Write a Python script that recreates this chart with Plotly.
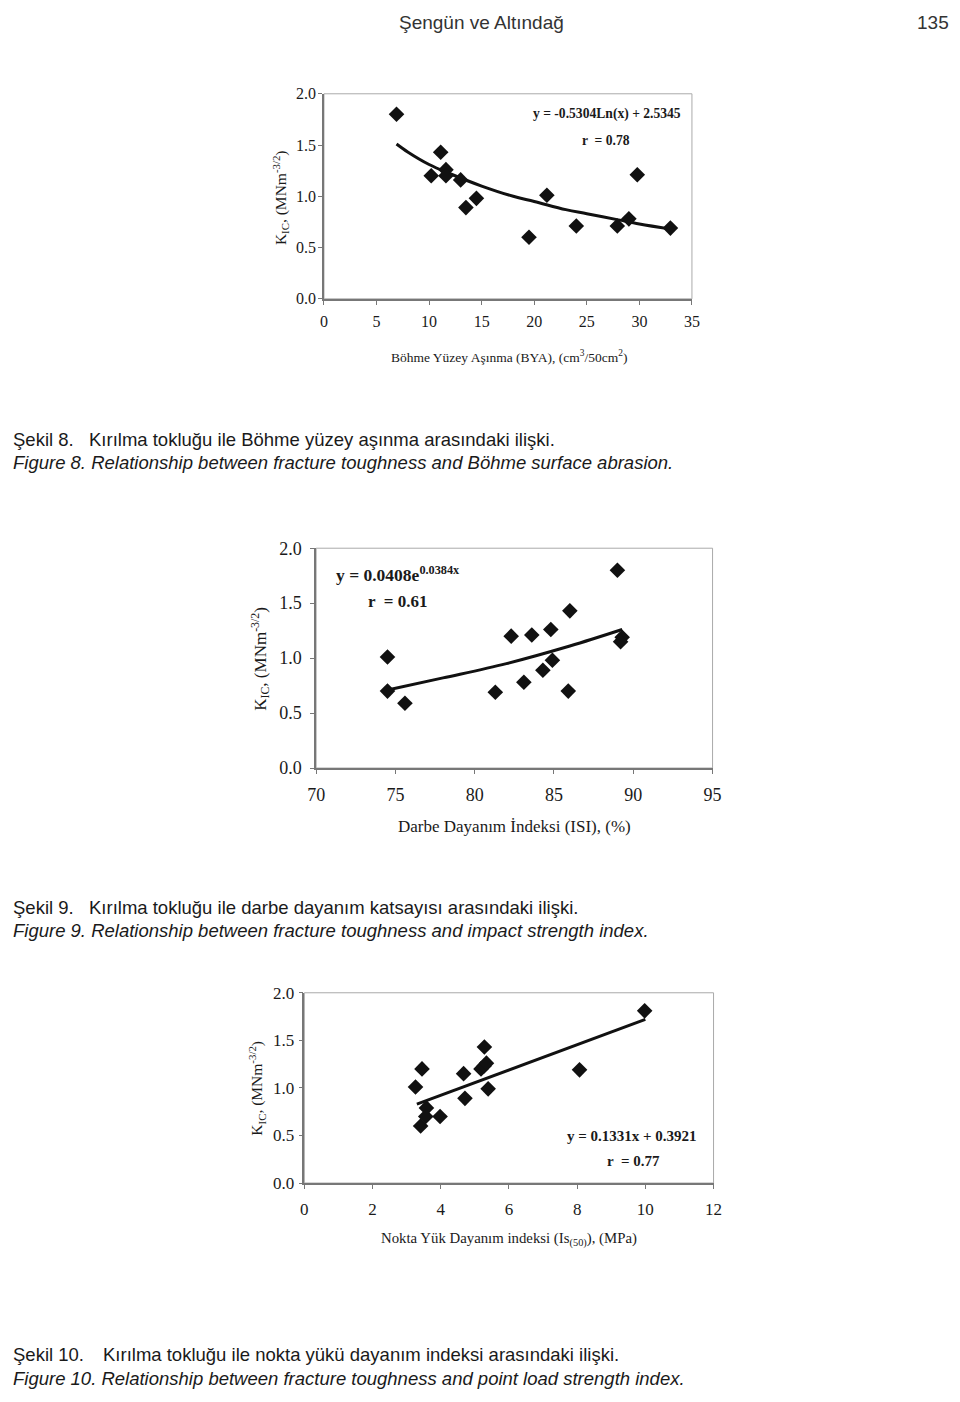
import plotly.graph_objects as go

W, H = 960, 1402

# ---------------- data ----------------
# Figure 8: Böhme surface abrasion vs K_IC
bya_x = [6.9, 10.2, 11.1, 11.6, 11.6, 13.0, 13.5, 14.5, 19.5, 21.2, 24.0, 27.9, 29.0, 29.8, 32.95]
bya_y = [1.80, 1.20, 1.43, 1.26, 1.20, 1.16, 0.89, 0.98, 0.60, 1.01, 0.71, 0.71, 0.78, 1.21, 0.69]
bya_trend_x = [6.9, 8, 10, 12, 15, 18, 20, 23, 25, 28, 30, 33]
bya_trend_y = [1.51, 1.43, 1.31, 1.22, 1.10, 1.00, 0.95, 0.87, 0.83, 0.77, 0.73, 0.68]

# Figure 9: impact strength index vs K_IC
isi_x = [74.5, 74.5, 75.6, 81.3, 82.3, 83.1, 83.6, 84.3, 84.8, 84.9, 85.9, 86.0, 89.0, 89.3, 89.2]
isi_y = [1.01, 0.70, 0.59, 0.69, 1.20, 0.78, 1.21, 0.89, 1.26, 0.98, 0.70, 1.43, 1.80, 1.19, 1.15]
isi_trend_x = [74.5, 78, 82, 86, 89.3]
isi_trend_y = [0.71, 0.82, 0.95, 1.11, 1.26]

# Figure 10: point load strength index vs K_IC
is50_x = [3.26, 3.45, 3.41, 3.58, 3.56, 3.98, 4.67, 4.71, 5.18, 5.28, 5.27, 5.34, 5.39, 8.07, 9.98]
is50_y = [1.01, 1.20, 0.60, 0.79, 0.70, 0.70, 1.15, 0.89, 1.20, 1.43, 1.23, 1.26, 0.99, 1.19, 1.81]
is50_trend_x = [3.3, 10.0]
is50_trend_y = [0.83, 1.72]

y_ticks = [0.0, 0.5, 1.0, 1.5, 2.0]

# ---------------- helpers ----------------
def px(x):
    return x / W

def py(y):
    return 1 - y / H

SERIF = "Liberation Serif, Times New Roman, serif"
SANS = "Liberation Sans, Arial, Helvetica, sans-serif"

fig = go.Figure()

panels = [
    dict(xs=bya_x, ys=bya_y, tx=bya_trend_x, ty=bya_trend_y, shape="spline",
         dom_x=(321, 696), dom_y=(85, 293), xr=(0, 35), dt=5, tf=16, ystand=-1, xstand=3),
    dict(xs=isi_x, ys=isi_y, tx=isi_trend_x, ty=isi_trend_y, shape="spline",
         dom_x=(313, 717), dom_y=(546, 769), xr=(70, 95), dt=5, tf=18, ystand=5, xstand=6),
    dict(xs=is50_x, ys=is50_y, tx=is50_trend_x, ty=is50_trend_y, shape="linear",
         dom_x=(301, 718), dom_y=(997, 1190), xr=(0, 12), dt=2, tf=17, ystand=1, xstand=6),
]

layout_axes = {}
shapes = []
for i, p in enumerate(panels, start=1):
    xa = "x" if i == 1 else f"x{i}"
    ya = "y" if i == 1 else f"y{i}"
    fig.add_trace(go.Scatter(x=p["tx"], y=p["ty"], mode="lines",
                             line=dict(color="#111", width=3, shape=p["shape"], smoothing=1.0),
                             xaxis=xa, yaxis=ya, showlegend=False, hoverinfo="skip"))
    fig.add_trace(go.Scatter(x=p["xs"], y=p["ys"], mode="markers",
                             marker=dict(symbol="diamond", size=12, color="#111"),
                             xaxis=xa, yaxis=ya, showlegend=False))
    kx = "xaxis" if i == 1 else f"xaxis{i}"
    ky = "yaxis" if i == 1 else f"yaxis{i}"
    layout_axes[kx] = dict(
        domain=[px(p["dom_x"][0]), px(p["dom_x"][1])], anchor=ya,
        range=list(p["xr"]), dtick=p["dt"], tick0=p["xr"][0],
        showgrid=False, zeroline=False, showline=True, linecolor="#777", linewidth=1.5,
        ticks="outside", ticklen=4, tickcolor="#777", ticklabelstandoff=p["xstand"],
        tickfont=dict(family=SERIF, size=p["tf"], color="#1a1a1a"),
    )
    layout_axes[ky] = dict(
        domain=[py(p["dom_y"][1]), py(p["dom_y"][0])], anchor=xa,
        range=[0, 2], tickvals=y_ticks, tickformat=".1f",
        showgrid=False, zeroline=False, showline=True, linecolor="#777", linewidth=1.5,
        ticks="outside", ticklen=4, tickcolor="#777", ticklabelstandoff=p["ystand"],
        tickfont=dict(family=SERIF, size=p["tf"], color="#1a1a1a"),
    )
    shapes.append(dict(type="rect", xref=f"{xa} domain", yref=f"{ya} domain",
                       x0=0, x1=1, y0=0, y1=1, line=dict(color="#aaa", width=1),
                       layer="below"))

annotations = []

def ann(text, x, y, size, family, xanchor="left", color="#1a1a1a", textangle=0, yanchor="middle"):
    annotations.append(dict(text=text, x=px(x), y=py(y), xref="paper", yref="paper",
                            showarrow=False, xanchor=xanchor, yanchor=yanchor,
                            font=dict(size=size, family=family, color=color),
                            textangle=textangle, borderpad=0))

# header
ann("Şengün ve Altındağ", 482, 13, 19, SANS, xanchor="center", color="#333")
ann("135", 959, 13, 19, SANS, xanchor="right", color="#333")

# chart 1 texts
ann("<b>y = -0.5304Ln(x) + 2.5345</b>", 533, 106, 13.6, SERIF)
ann("<b>r  = 0.78</b>", 583, 132, 13.6, SERIF)
ann("Böhme Yüzey Aşınma (BYA), (cm<sup>3</sup>/50cm<sup>2</sup>)", 510, 352, 13.5, SERIF, xanchor="center")
ann("K<sub>IC</sub>, (MNm<sup>-3/2</sup>)", 277, 190, 15.5, SERIF, xanchor="center", textangle=-90)

# chart 2 texts
ann("<b>y = 0.0408e<sup>0.0384x</sup></b>", 332, 572, 17.5, SERIF)
ann("<b>r  = 0.61</b>", 365, 600, 17, SERIF)
ann("Darbe Dayanım İndeksi (ISI), (%)", 515, 828, 17, SERIF, xanchor="center")
ann("K<sub>IC</sub>, (MNm<sup>-3/2</sup>)", 256, 658, 17, SERIF, xanchor="center", textangle=-90)

# chart 3 texts
ann("<b>y = 0.1331x + 0.3921</b>", 568, 1142, 15, SERIF)
ann("<b>r  = 0.77</b>", 608, 1168, 15, SERIF)
ann("Nokta Yük Dayanım indeksi (Is<sub>(50)</sub>), (MPa)", 510, 1247, 14.8, SERIF, xanchor="center")
ann("K<sub>IC</sub>, (MNm<sup>-3/2</sup>)", 253, 1094, 15.5, SERIF, xanchor="center", textangle=-90)

# captions
CAP = 18.5
ann("Şekil 8.", 3, 436, CAP, SANS)
ann("Kırılma tokluğu ile Böhme yüzey aşınma arasındaki ilişki.", 81, 436, CAP, SANS)
ann("<i>Figure 8. Relationship between fracture toughness and Böhme surface abrasion.</i>", 3, 459, CAP, SANS)
ann("Şekil 9.", 3, 910, CAP, SANS)
ann("Kırılma tokluğu ile darbe dayanım katsayısı arasındaki ilişki.", 81, 910, CAP, SANS)
ann("<i>Figure 9. Relationship between fracture toughness and impact strength index.</i>", 3, 934, CAP, SANS)
ann("Şekil 10.", 3, 1364, CAP, SANS)
ann("Kırılma tokluğu ile nokta yükü dayanım indeksi arasındaki ilişki.", 95, 1364, CAP, SANS)
ann("<i>Figure 10. Relationship between fracture toughness and point load strength index.</i>", 3, 1388, CAP, SANS)

fig.update_layout(
    width=W, height=H, margin=dict(l=0, r=0, t=0, b=0),
    paper_bgcolor="white", plot_bgcolor="white",
    annotations=annotations, shapes=shapes, showlegend=False,
    **layout_axes,
)

fig.write_html(
    "out.html",
    post_script="document.body.style.margin='0';document.body.style.padding='0';"
                "document.documentElement.style.overflow='hidden';",
)
